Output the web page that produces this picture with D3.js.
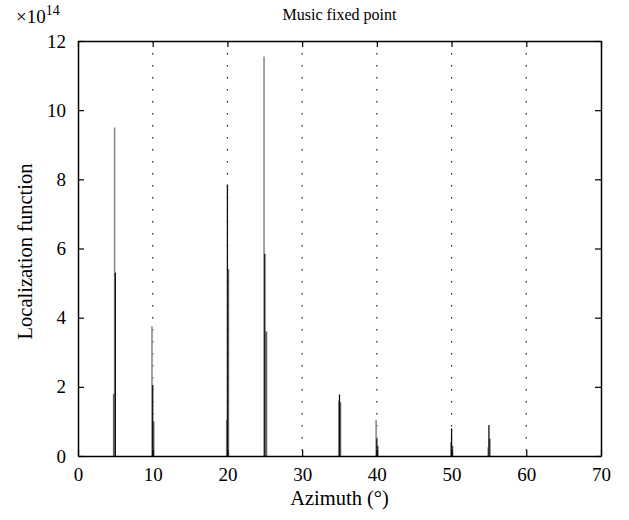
<!DOCTYPE html>
<html>
<head>
<meta charset="utf-8">
<script src="https://cdn.jsdelivr.net/npm/d3@7"></script>
<style>
  body { margin: 0; background: #fff; }
  text { font-family: "Liberation Serif", "DejaVu Serif", serif; fill: #000; }
</style>
</head>
<body>
<div class="canvas"></div>
<script>
// peak azimuths (deg) and heights (x1e14) for the three overlaid curves
const azLight = [4.9, 9.9, 19.9, 24.9, 34.9, 39.9, 49.9, 54.9];
const valLight = [9.5, 3.75, 1.05, 11.55, 1.6, 1.05, 0.4, 0.25];

const azBlack = [5.0, 10.0, 20.0, 25.0, 35.0, 40.0, 50.0, 55.0];
const valBlack = [5.3, 2.05, 7.85, 5.85, 1.78, 0.5, 0.8, 0.9];

const azDark = [4.8, 10.1, 20.1, 25.2, 35.1, 40.1, 50.1, 55.1];
const valDark = [1.8, 1.0, 5.4, 3.6, 1.55, 0.3, 0.3, 0.5];

const xTicks = [0, 10, 20, 30, 40, 50, 60, 70];
const yTicks = [0, 2, 4, 6, 8, 10, 12];
const gridAz = [10, 20, 30, 40, 50, 60];

const width = 629, height = 520;
const margin = { top: 41, right: 28, bottom: 64, left: 78 };
const w = width - margin.left - margin.right;
const h = height - margin.top - margin.bottom;

const svg = d3.select('.canvas')
    .append('svg')
    .attr('width', width)
    .attr('height', height);

const graph = svg.append('g')
    .attr('transform', `translate(${margin.left}, ${margin.top})`);

const x = d3.scaleLinear().domain([0, 70]).range([0, w]);
const y = d3.scaleLinear().domain([0, 12]).range([h, 0]);

// dotted grid at the x ticks
graph.selectAll('.grid')
    .data(gridAz)
    .enter()
    .append('line')
    .attr('x1', d => x(d)).attr('x2', d => x(d))
    .attr('y1', 0).attr('y2', h)
    .attr('stroke', '#222')
    .attr('stroke-width', 1.2)
    .attr('stroke-dasharray', '1.5,10.5');

// spikes
const series = [
    { az: azLight, val: valLight, color: '#8c8c8c', sw: 1.6 },
    { az: azDark, val: valDark, color: '#666', sw: 2 },
    { az: azBlack, val: valBlack, color: '#111', sw: 1.3 }
];

series.forEach(s => {
    graph.append('g')
        .selectAll('line')
        .data(s.az.map((a, i) => [a, s.val[i]]))
        .enter()
        .append('line')
        .attr('x1', d => x(d[0])).attr('x2', d => x(d[0]))
        .attr('y1', y(0)).attr('y2', d => y(d[1]))
        .attr('stroke', s.color)
        .attr('stroke-width', s.sw);
});

// axes, matlab style: inward ticks on all sides
const axBottom = graph.append('g')
    .attr('transform', `translate(0, ${h})`)
    .call(d3.axisBottom(x).tickValues(xTicks).tickSizeInner(-6).tickSizeOuter(0).tickPadding(10));
const axTop = graph.append('g')
    .call(d3.axisTop(x).tickValues(xTicks).tickSizeInner(-6).tickSizeOuter(0).tickFormat(''));
const axLeft = graph.append('g')
    .call(d3.axisLeft(y).tickValues(yTicks).tickSizeInner(-6).tickSizeOuter(0).tickPadding(12));
const axRight = graph.append('g')
    .attr('transform', `translate(${w}, 0)`)
    .call(d3.axisRight(y).tickValues(yTicks).tickSizeInner(-6).tickSizeOuter(0).tickFormat(''));

[axBottom, axTop, axLeft, axRight].forEach(a => {
    a.select('.domain').attr('stroke', '#000').attr('stroke-width', 1.5);
    a.selectAll('.tick line').attr('stroke', '#000').attr('stroke-width', 1.2);
    a.selectAll('text')
        .style('font-family', '"Liberation Serif", "DejaVu Serif", serif')
        .style('font-size', '19px')
        .attr('fill', '#000');
});
axBottom.selectAll('text').attr('dy', '0.8em');

// exponent label
const expo = svg.append('text')
    .attr('x', 16)
    .attr('y', 23)
    .style('font-size', '19px');
expo.append('tspan').text('×10');
expo.append('tspan').attr('dy', -8).style('font-size', '14px').text('14');

// title
svg.append('text')
    .attr('x', margin.left + w / 2)
    .attr('y', 20)
    .attr('text-anchor', 'middle')
    .style('font-size', '16px')
    .text('Music fixed point');

// axis labels
svg.append('text')
    .attr('x', margin.left + w / 2)
    .attr('y', 505)
    .attr('text-anchor', 'middle')
    .style('font-size', '20.5px')
    .text('Azimuth (°)');

svg.append('text')
    .attr('transform', `translate(32, ${margin.top + h / 2 + 3}) rotate(-90)`)
    .attr('text-anchor', 'middle')
    .style('font-size', '20.5px')
    .text('Localization function');
</script>
</body>
</html>
